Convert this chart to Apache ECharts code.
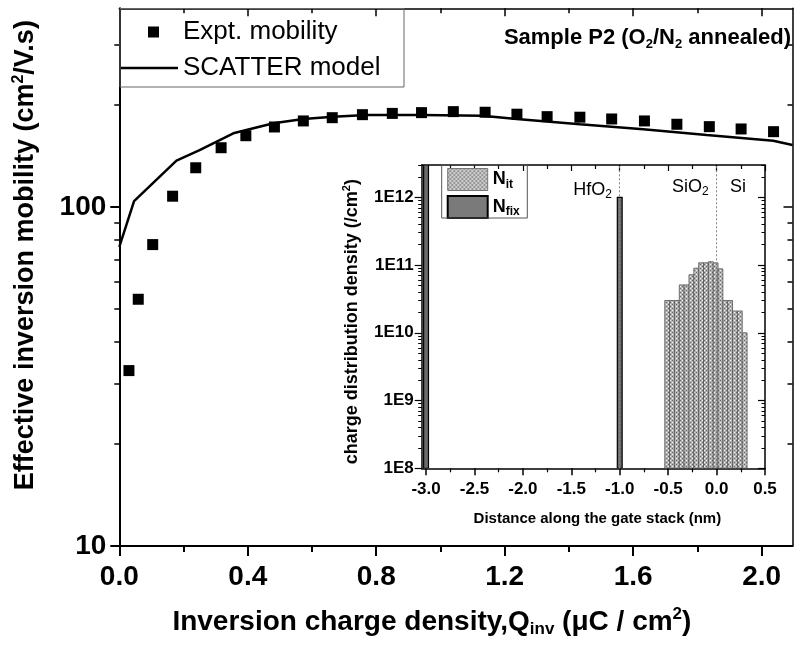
<!DOCTYPE html>
<html><head><meta charset="utf-8">
<script src="https://cdn.jsdelivr.net/npm/echarts@6/dist/echarts.min.js"></script>
<style>html,body{margin:0;padding:0;background:#fff}#c{width:797px;height:645px}</style>
</head><body><div id="c"></div>
<script>
// ---- main chart data ----
const exptQ  = [0.030,0.059,0.104,0.166,0.238,0.317,0.394,0.483,0.573,0.663,0.757,0.850,0.941,1.040,1.139,1.238,1.332,1.434,1.533,1.635,1.736,1.837,1.936,2.037];
const exptMu = [32.9,53.4,77.4,107.5,130.4,149.4,162.1,172.0,179.2,183.2,187.0,188.6,189.6,190.9,190.1,187.6,184.5,183.8,181.6,179.2,175.2,172.4,169.7,166.6];
const modelQ  = [0,0.046,0.178,0.25,0.355,0.48,0.573,0.666,0.77,0.94,1.13,1.237,1.434,1.631,1.829,2.036,2.096];
const modelMu = [76.2,104,136.8,147,164.8,176.4,181.5,184.5,186.6,186.6,185.6,181.6,175.1,169.5,163,156.6,152.2];
const mainXTicks = [0,0.4,0.8,1.2,1.6,2.0];
const mainXMinor = [0.2,0.6,1.0,1.4,1.8];
const mainYTicks = [10,100];
const mainYMinor = [20,30,40,50,60,70,80,90,200,300];
// ---- inset data ----
const nfixX = [-3.0,-1.0];
const nfixN = [3e12,1e12];
const nitX = [-0.51,-0.46,-0.41,-0.36,-0.31,-0.26,-0.21,-0.16,-0.11,-0.06,-0.01,0.04,0.09,0.14,0.19,0.24,0.29];
const nitN = [3.0e10,3.0e10,3.0e10,5.1e10,5.1e10,7.2e10,9.0e10,1.08e11,1.08e11,1.12e11,1.08e11,8.8e10,3.0e10,3.0e10,2.1e10,2.1e10,1.0e10];
const interfaces = [-1.0,0.0];
const insetXTicks = [-3,-2.5,-2,-1.5,-1,-0.5,0,0.5];
const insetXMinor = [-2.75,-2.25,-1.75,-1.25,-0.75,-0.25,0.25];
const insetYTicks = [1e8,1e9,1e10,1e11,1e12];
const insetYMinor = [];
for (let k = 8; k <= 12; k++) for (let m = 2; m <= 9; m++) { const v = m * Math.pow(10, k); if (v <= 3e12) insetYMinor.push(v); }

const SANS = "'Liberation Sans',Arial,sans-serif";

// hatch pattern for Nit
const pc = document.createElement('canvas'); pc.width = 4; pc.height = 4;
const g = pc.getContext('2d');
g.fillStyle = '#b4b4b4'; g.fillRect(0,0,4,4);
g.fillStyle = '#666'; g.fillRect(0,0,1,1); g.fillRect(2,2,1,1);
g.fillStyle = '#f4f4f4'; g.fillRect(2,0,1,1); g.fillRect(0,2,1,1);
const pattern = {image: pc, repeat: 'repeat'};

const chart = echarts.init(document.getElementById('c'), null, {renderer: 'canvas'});

function tickAxis(base, extra) { return Object.assign({splitLine:{show:false}}, base, extra); }

const mainXBase = {gridIndex:0, type:'value', min:0, max:2.096};
const mainYBase = {gridIndex:0, type:'log', min:10, max:385, logBase:10};
const inXBase = {gridIndex:1, type:'value', min:-3.045, max:0.5};
const inYBase = {gridIndex:1, type:'log', min:1e8, max:3e12, logBase:10};

function barRender(halfW, fill, stroke, lw) {
  return function (params, api) {
    const x = api.value(0), v = api.value(1);
    const p1 = api.coord([x - halfW, v]);
    const p0 = api.coord([x + halfW, 1e8]);
    const cs = params.coordSys;
    const r = echarts.graphic.clipRectByRect(
      {x: p1[0], y: p1[1], width: p0[0] - p1[0], height: p0[1] - p1[1]},
      {x: cs.x, y: cs.y, width: cs.width, height: cs.height});
    return r && {type:'rect', shape:r, style:{fill: fill, stroke: stroke, lineWidth: lw}};
  };
}

const mainTxt = {fontSize:28, fontWeight:'bold', fontFamily:SANS, color:'#000', lineHeight:32};
const mainSub = {fontSize:17, fontWeight:'bold', fontFamily:SANS, color:'#000', lineHeight:17, verticalAlign:'bottom'};
const mainSup = {fontSize:17, fontWeight:'bold', fontFamily:SANS, color:'#000', lineHeight:17, verticalAlign:'top'};
const small = {fontSize:18, fontWeight:'normal', fontFamily:SANS, color:'#000', lineHeight:22};
const smallSub = {fontSize:12, fontWeight:'normal', fontFamily:SANS, color:'#000', lineHeight:12, verticalAlign:'bottom'};

const option = {
  animation: false,
  backgroundColor: '#fff',
  grid: [
    {left:119.3, right:4.5, top:8.3, bottom:99, outerBoundsMode:'none'},
    {left:421.7, right:32, top:165, bottom:176.7, outerBoundsMode:'none'}
  ],
  title: [
    {text:'{b|Sample P2 (O}{s|2}{b|/N}{s|2}{b| annealed)}', right:1, top:20,
     textStyle:{rich:{b:{fontSize:22, fontWeight:'bold', fontFamily:SANS, color:'#000', lineHeight:26},
                      s:{fontSize:13, fontWeight:'bold', fontFamily:SANS, color:'#000', lineHeight:13, verticalAlign:'bottom'}}}},
    {text:'{a|HfO}{s|2}', right:180, top:174, textStyle:{fontWeight:'normal', rich:{a:small, s:smallSub}}},
    {text:'{a|SiO}{s|2}', left:667, top:171, textStyle:{fontWeight:'normal', rich:{a:small, s:smallSub}}},
    {text:'{a|Si}', left:725, top:171, textStyle:{fontWeight:'normal', rich:{a:small}}}
  ],
  legend: [
    {data:[{name:'Expt. mobility', icon:'rect', itemStyle:{color:'#000', opacity:1}}],
     left:148, top:19, padding:0, itemWidth:11, itemHeight:11, selectedMode:false,
     textStyle:{fontSize:26, fontFamily:SANS, color:'#000', padding:[0,0,0,19]}},
    {data:[{name:'SCATTER model', icon:'path://M0,0h60v2.6h-60z', itemStyle:{color:'#000'}}],
     left:120, top:55, padding:0, itemWidth:58, itemHeight:14, selectedMode:false,
     textStyle:{fontSize:26, fontFamily:SANS, color:'#000'}},
    {data:[{name:'Nit', icon:'rect', itemStyle:{color:pattern, borderColor:'#777', borderWidth:1}},
           {name:'Nfix', icon:'rect', itemStyle:{color:'#7a7a7a', borderColor:'#000', borderWidth:2}}],
     orient:'vertical', left:446.7, top:168, padding:0, itemWidth:40, itemHeight:22, itemGap:4, selectedMode:false,
     formatter: n => n === 'Nit' ? '{n|N}{s|it}' : '{n|N}{s|fix}',
     textStyle:{rich:{n:{fontSize:18, fontWeight:'bold', fontFamily:SANS, color:'#000', lineHeight:22},
                      s:{fontSize:12, fontWeight:'bold', fontFamily:SANS, color:'#000', lineHeight:12, verticalAlign:'bottom'}}}}
  ],
  graphic: [
    {type:'rect', shape:{x:120, y:8.5, width:284, height:78.5}, style:{fill:'none', stroke:'#666', lineWidth:1}, z:10, silent:true},
    {type:'rect', shape:{x:441.7, y:165, width:85.6, height:53}, style:{fill:'none', stroke:'#555', lineWidth:1}, z:10, silent:true}
  ],
  xAxis: [
    tickAxis(mainXBase, {position:'bottom',
      axisLine:{show:true, onZero:false, lineStyle:{color:'#000', width:2}},
      axisTick:{show:true, customValues:mainXTicks, length:10, lineStyle:{color:'#000', width:2}},
      axisLabel:{customValues:mainXTicks, formatter:v => v.toFixed(1), margin:17, fontSize:28, fontWeight:'bold', fontFamily:SANS, color:'#000'},
      name:'{t|Inversion charge density,Q}{b|inv}{t| (\u03bcC / cm}{p|2}{t|)}', nameLocation:'middle', nameGap:60,
      nameTextStyle:{padding:[0,48,0,0], rich:{t:mainTxt, b:mainSub, p:mainSup}}}),
    tickAxis(mainXBase, {position:'bottom', axisLine:{show:false, onZero:false},
      axisTick:{show:true, customValues:mainXMinor, length:6, lineStyle:{color:'#000', width:2}}, axisLabel:{show:false}}),
    tickAxis(mainXBase, {position:'top', axisLine:{show:true, onZero:false, lineStyle:{color:'#000', width:1.5}},
      axisTick:{show:true, inside:true, customValues:mainXTicks, length:8, lineStyle:{color:'#000', width:1.5}}, axisLabel:{show:false}}),
    tickAxis(mainXBase, {position:'top', axisLine:{show:false, onZero:false},
      axisTick:{show:true, inside:true, customValues:mainXMinor, length:5, lineStyle:{color:'#000', width:1.5}}, axisLabel:{show:false}}),
    tickAxis(inXBase, {position:'bottom', axisLine:{show:true, onZero:false, lineStyle:{color:'#000', width:1.5}},
      axisTick:{show:true, customValues:insetXTicks, length:7, lineStyle:{color:'#000', width:1.5}},
      axisLabel:{customValues:insetXTicks, formatter:v => v.toFixed(1), margin:13, fontSize:17, fontWeight:'bold', fontFamily:SANS, color:'#000'},
      name:'Distance along the gate stack (nm)', nameLocation:'middle', nameGap:43,
      nameTextStyle:{fontSize:15, fontWeight:'bold', fontFamily:SANS, color:'#000', padding:[0,0,0,8]}}),
    tickAxis(inXBase, {position:'bottom', axisLine:{show:false, onZero:false},
      axisTick:{show:true, customValues:insetXMinor, length:4, lineStyle:{color:'#000', width:1.2}}, axisLabel:{show:false}}),
    tickAxis(inXBase, {position:'top', axisLine:{show:true, onZero:false, lineStyle:{color:'#000', width:1.5}},
      axisTick:{show:true, inside:true, customValues:insetXTicks, length:6, lineStyle:{color:'#000', width:1.2}}, axisLabel:{show:false}}),
    tickAxis(inXBase, {position:'top', axisLine:{show:false, onZero:false},
      axisTick:{show:true, inside:true, customValues:insetXMinor, length:4, lineStyle:{color:'#000', width:1.2}}, axisLabel:{show:false}})
  ],
  yAxis: [
    tickAxis(mainYBase, {position:'left', axisLine:{show:true, onZero:false, lineStyle:{color:'#000', width:2}},
      axisTick:{show:true, customValues:mainYTicks, length:9, lineStyle:{color:'#000', width:2}},
      axisLabel:{customValues:mainYTicks, margin:13, fontSize:28, fontWeight:'bold', fontFamily:SANS, color:'#000'},
      name:'{t|Effective inversion mobility (cm}{p|2}{t|/V.s)}', nameLocation:'middle', nameGap:79,
      nameTextStyle:{padding:[0,0,0,44], rich:{t:Object.assign({}, mainTxt, {fontSize:27, lineHeight:30}), p:Object.assign({}, mainSup, {fontSize:16})}}}),
    tickAxis(mainYBase, {position:'left', axisLine:{show:false, onZero:false},
      axisTick:{show:true, customValues:mainYMinor, length:5, lineStyle:{color:'#000', width:1.5}}, axisLabel:{show:false}}),
    tickAxis(mainYBase, {position:'right', axisLine:{show:true, onZero:false, lineStyle:{color:'#000', width:1.5}},
      axisTick:{show:true, inside:true, customValues:mainYTicks, length:9, lineStyle:{color:'#000', width:1.5}}, axisLabel:{show:false}}),
    tickAxis(mainYBase, {position:'right', axisLine:{show:false, onZero:false},
      axisTick:{show:true, inside:true, customValues:mainYMinor, length:5, lineStyle:{color:'#000', width:1.5}}, axisLabel:{show:false}}),
    tickAxis(inYBase, {position:'left', axisLine:{show:true, onZero:false, lineStyle:{color:'#000', width:1.5}},
      axisTick:{show:true, customValues:insetYTicks, length:7, lineStyle:{color:'#000', width:1.2}},
      axisLabel:{customValues:insetYTicks, formatter:v => '1E' + Math.round(Math.log10(v)), margin:8, fontSize:17, fontWeight:'bold', fontFamily:SANS, color:'#000'},
      name:'{t|charge distribution density (/cm}{p|2}{t|)}', nameLocation:'middle', nameGap:60,
      nameTextStyle:{padding:[0,10,0,0], rich:{t:{fontSize:18, fontWeight:'bold', fontFamily:SANS, color:'#000', lineHeight:20},
                                              p:{fontSize:11, fontWeight:'bold', fontFamily:SANS, color:'#000', lineHeight:11, verticalAlign:'top'}}}}),
    tickAxis(inYBase, {position:'left', axisLine:{show:false, onZero:false},
      axisTick:{show:true, customValues:insetYMinor, length:3.5, lineStyle:{color:'#000', width:1}}, axisLabel:{show:false}}),
    tickAxis(inYBase, {position:'right', axisLine:{show:true, onZero:false, lineStyle:{color:'#000', width:1.5}},
      axisTick:{show:true, inside:true, customValues:insetYTicks, length:7, lineStyle:{color:'#000', width:1.2}}, axisLabel:{show:false}}),
    tickAxis(inYBase, {position:'right', axisLine:{show:false, onZero:false},
      axisTick:{show:true, inside:true, customValues:insetYMinor, length:3.5, lineStyle:{color:'#000', width:1}}, axisLabel:{show:false}})
  ],
  series: [
    {name:'SCATTER model', type:'line', xAxisIndex:0, yAxisIndex:0, symbol:'none', showSymbol:false,
     lineStyle:{color:'#000', width:2.5}, itemStyle:{color:'#000'},
     data: modelQ.map((q, i) => [q, modelMu[i]])},
    {name:'Expt. mobility', type:'scatter', xAxisIndex:0, yAxisIndex:0, symbol:'rect', symbolSize:11,
     itemStyle:{color:'#000', opacity:1}, data: exptQ.map((q, i) => [q, exptMu[i]])},
    {name:'Nit', type:'custom', xAxisIndex:4, yAxisIndex:4, clip:true,
     itemStyle:{color:'#b4b4b4'},
     renderItem: barRender(0.025, pattern, '#555', 0.8),
     encode:{x:0, y:1},
     data: nitX.map((x, i) => [x, nitN[i]]),
     markLine:{silent:true, symbol:['none','none'], label:{show:false},
       lineStyle:{color:'#888', type:[2,2], width:1},
       data: interfaces.map(v => ({xAxis:v}))}},
    {name:'Nfix', type:'custom', xAxisIndex:4, yAxisIndex:4, clip:true,
     itemStyle:{color:'#6b6b6b'},
     renderItem: barRender(0.025, '#6b6b6b', '#000', 1.2),
     encode:{x:0, y:1},
     data: nfixX.map((x, i) => [x, nfixN[i]])}
  ]
};
chart.setOption(option);
</script></body></html>
